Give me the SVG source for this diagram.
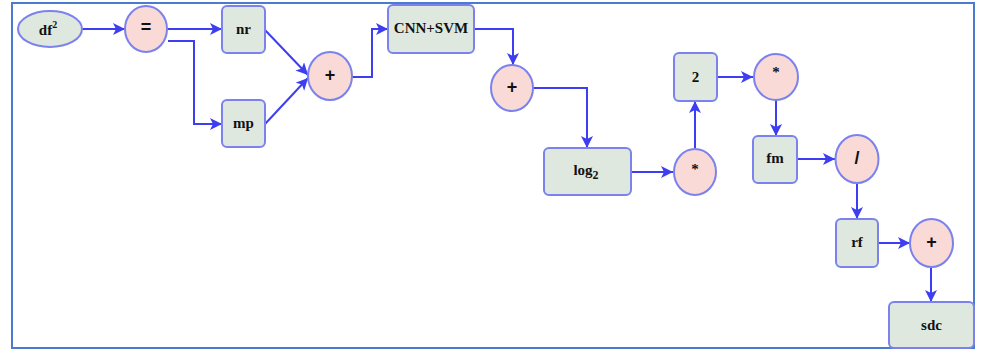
<svg xmlns="http://www.w3.org/2000/svg" width="981" height="351" viewBox="0 0 981 351">
<defs>
<style>
.box{fill:#dfe8de;stroke:#7b82ee;stroke-width:2}
.op{fill:#f9dad6;stroke:#7b82ee;stroke-width:2}
.t{font-family:"Liberation Serif",serif;font-weight:bold;font-size:15px;fill:#111;text-anchor:middle;dominant-baseline:central}
.o{font-family:"Liberation Sans",sans-serif;font-weight:bold;font-size:18px;fill:#111;text-anchor:middle;dominant-baseline:central}
.c{fill:none;stroke:#3d3df2;stroke-width:2}
</style>
<marker id="ah" viewBox="0 0 12 12" refX="12" refY="6" markerWidth="12" markerHeight="12" markerUnits="userSpaceOnUse" orient="auto">
<path d="M0,0 L12,6 L0,12 L3,6 Z" fill="#3d3df2"/>
</marker>
</defs>
<rect x="0" y="0" width="981" height="351" fill="#fff"/>
<rect x="12" y="3" width="962" height="345" fill="none" stroke="#4a7bd0" stroke-width="2"/>
<g id="connectors">
<path class="c" d="M82,29 H125" marker-end="url(#ah)"/>
<path class="c" d="M167,29 H222" marker-end="url(#ah)"/>
<path class="c" d="M168,41 H194 V124 H222" marker-end="url(#ah)"/>
<path class="c" d="M265,30 L308,75" marker-end="url(#ah)"/>
<path class="c" d="M265,124 L308,78" marker-end="url(#ah)"/>
<path class="c" d="M352,77 H372 V29 H388" marker-end="url(#ah)"/>
<path class="c" d="M474,29 H513 V65" marker-end="url(#ah)"/>
<path class="c" d="M533,88 H587 V148" marker-end="url(#ah)"/>
<path class="c" d="M631,172 H673" marker-end="url(#ah)"/>
<path class="c" d="M695,148 V101" marker-end="url(#ah)"/>
<path class="c" d="M717,77 H753" marker-end="url(#ah)"/>
<path class="c" d="M776,100 V136" marker-end="url(#ah)"/>
<path class="c" d="M797,159 H835" marker-end="url(#ah)"/>
<path class="c" d="M857,183 V219" marker-end="url(#ah)"/>
<path class="c" d="M878,243 H910" marker-end="url(#ah)"/>
<path class="c" d="M931,267 V302" marker-end="url(#ah)"/>
</g>
<g id="df2"><ellipse class="box" cx="50" cy="29" rx="32" ry="18"/><text class="t" x="48" y="30">df<tspan dy="-6" font-size="10">2</tspan></text></g>
<g id="eq"><ellipse class="op" cx="146" cy="29" rx="21" ry="23"/><text class="o" x="146" y="27">=</text></g>
<g id="nr"><rect class="box" x="222" y="6" width="43" height="47" rx="5"/><text class="t" x="243.5" y="29">nr</text></g>
<g id="mp"><rect class="box" x="222" y="100" width="43" height="47" rx="5"/><text class="t" x="243.5" y="123">mp</text></g>
<g id="plus1"><ellipse class="op" cx="330" cy="76" rx="22" ry="24"/><text class="o" x="330" y="75">+</text></g>
<g id="cnnsvm"><rect class="box" x="388" y="5" width="86" height="48" rx="5"/><text class="t" x="431" y="28">CNN+SVM</text></g>
<g id="plus2"><ellipse class="op" cx="512" cy="88" rx="21" ry="23"/><text class="o" x="512" y="87">+</text></g>
<g id="log2"><rect class="box" x="544" y="148" width="87" height="47" rx="5"/><text class="t" x="586" y="170">log<tspan dy="5" font-size="12">2</tspan></text></g>
<g id="mul1"><ellipse class="op" cx="695" cy="172" rx="21" ry="23"/><text class="t" x="695" y="169">*</text></g>
<g id="two"><rect class="box" x="674" y="53" width="43" height="48" rx="5"/><text class="t" x="695.5" y="77">2</text></g>
<g id="mul2"><ellipse class="op" cx="776" cy="77" rx="22" ry="23"/><text class="t" x="776" y="72">*</text></g>
<g id="fm"><rect class="box" x="753" y="136" width="44" height="47" rx="5"/><text class="t" x="775" y="158">fm</text></g>
<g id="div"><ellipse class="op" cx="857" cy="159" rx="21.5" ry="24"/><text class="o" x="857" y="158">/</text></g>
<g id="rf"><rect class="box" x="836" y="219" width="42" height="48" rx="5"/><text class="t" x="857" y="242">rf</text></g>
<g id="plus3"><ellipse class="op" cx="931.5" cy="243" rx="21.5" ry="24"/><text class="o" x="931.5" y="242">+</text></g>
<g id="sdc"><rect class="box" x="889" y="302" width="85" height="46" rx="5"/><text class="t" x="931.5" y="325">sdc</text></g>
</svg>
